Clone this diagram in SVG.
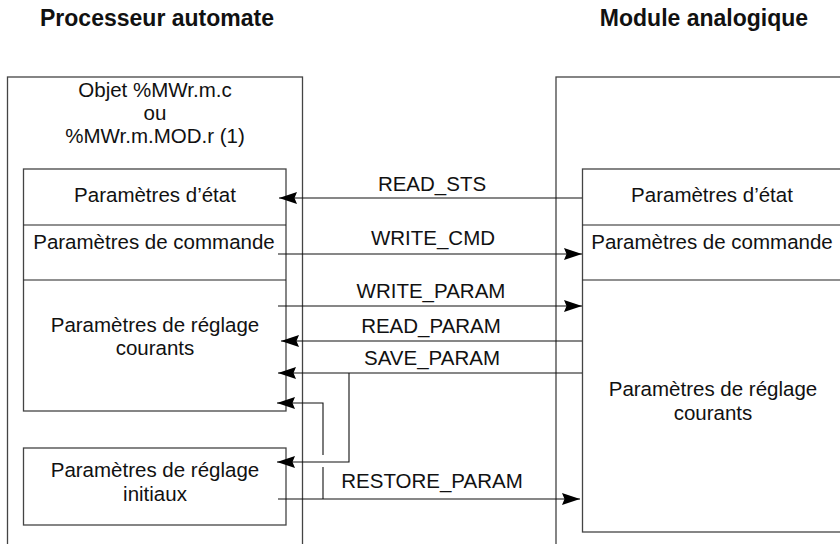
<svg xmlns="http://www.w3.org/2000/svg" width="840" height="544" viewBox="0 0 840 544">
  <style>
    .box { fill: none; stroke: #444; stroke-width: 1.3; }
    .div { fill: none; stroke: #222; stroke-width: 1.2; }
    .t { font-family: "Liberation Sans", Arial, sans-serif; font-size: 20.5px; fill: #111; text-anchor: middle; }
    .h { font-family: "Liberation Sans", Arial, sans-serif; font-size: 23px; font-weight: bold; fill: #111; text-anchor: middle; }
    .ln { fill: none; stroke: #111; stroke-width: 1.1; }
  </style>
  <defs>
    <marker id="ah" markerUnits="userSpaceOnUse" viewBox="-19 -7 20 14" refX="0" refY="0" markerWidth="20" markerHeight="14" orient="auto">
      <path d="M0,0 L-18,-6 L-15.5,0 L-18,6 Z" fill="#000"/>
    </marker>
  </defs>

  <rect width="840" height="544" fill="#fff"/>

  <g id="title-processeur">
    <text class="h" x="157" y="26">Processeur automate</text>
  </g>
  <g id="title-module">
    <text class="h" x="704" y="26">Module analogique</text>
  </g>

  <g id="processeur">
    <rect class="box" x="7.5" y="77" width="295" height="480"/>
    <text class="t" x="155" y="97">Objet %MWr.m.c</text>
    <text class="t" x="155" y="120">ou</text>
    <text class="t" x="155" y="143">%MWr.m.MOD.r (1)</text>
  </g>

  <g id="p-etat">
    <rect class="box" x="23.5" y="169" width="262.5" height="242"/>
    <text class="t" x="155" y="202">Paramètres d’état</text>
  </g>
  <g id="p-commande">
    <line class="div" x1="23.5" y1="225" x2="286" y2="225"/>
    <text class="t" x="154" y="249">Paramètres de commande</text>
  </g>
  <g id="p-reglage">
    <line class="div" x1="23.5" y1="280" x2="286" y2="280"/>
    <text class="t" x="155" y="332">Paramètres de réglage</text>
    <text class="t" x="155" y="355">courants</text>
  </g>
  <g id="p-initiaux">
    <rect class="box" x="23.5" y="448" width="262.5" height="77"/>
    <text class="t" x="155" y="477">Paramètres de réglage</text>
    <text class="t" x="155" y="501">initiaux</text>
  </g>

  <g id="module">
    <rect class="box" x="556" y="77" width="300" height="480"/>
  </g>
  <g id="m-etat">
    <rect class="box" x="582.5" y="169" width="270" height="363"/>
    <text class="t" x="712" y="202">Paramètres d’état</text>
  </g>
  <g id="m-commande">
    <line class="div" x1="582.5" y1="225" x2="845" y2="225"/>
    <text class="t" x="712" y="249">Paramètres de commande</text>
  </g>
  <g id="m-reglage">
    <line class="div" x1="582.5" y1="280" x2="845" y2="280"/>
    <text class="t" x="713" y="396">Paramètres de réglage</text>
    <text class="t" x="713" y="420">courants</text>
  </g>

  <g id="connectors">
    <line class="ln" x1="582" y1="198" x2="279" y2="198" marker-end="url(#ah)"/>
    <text class="t" x="432" y="191">READ_STS</text>

    <line class="ln" x1="278" y1="254" x2="582" y2="254" marker-end="url(#ah)"/>
    <text class="t" x="433" y="245">WRITE_CMD</text>

    <line class="ln" x1="278" y1="306" x2="582" y2="306" marker-end="url(#ah)"/>
    <text class="t" x="431" y="298">WRITE_PARAM</text>

    <line class="ln" x1="582" y1="341" x2="281" y2="341" marker-end="url(#ah)"/>
    <text class="t" x="431" y="333">READ_PARAM</text>

    <line class="ln" x1="582" y1="373" x2="278" y2="373" marker-end="url(#ah)"/>
    <text class="t" x="432" y="365">SAVE_PARAM</text>
    <polyline class="ln" points="349,373 349,462 277,462" marker-end="url(#ah)"/>

    <line class="ln" x1="278" y1="499" x2="580" y2="499" marker-end="url(#ah)"/>
    <text class="t" x="432" y="488">RESTORE_PARAM</text>
    <polyline class="ln" points="323,455 323,403 277,403" marker-end="url(#ah)"/>
    <line class="ln" x1="323" y1="467" x2="323" y2="499"/>
  </g>
</svg>
